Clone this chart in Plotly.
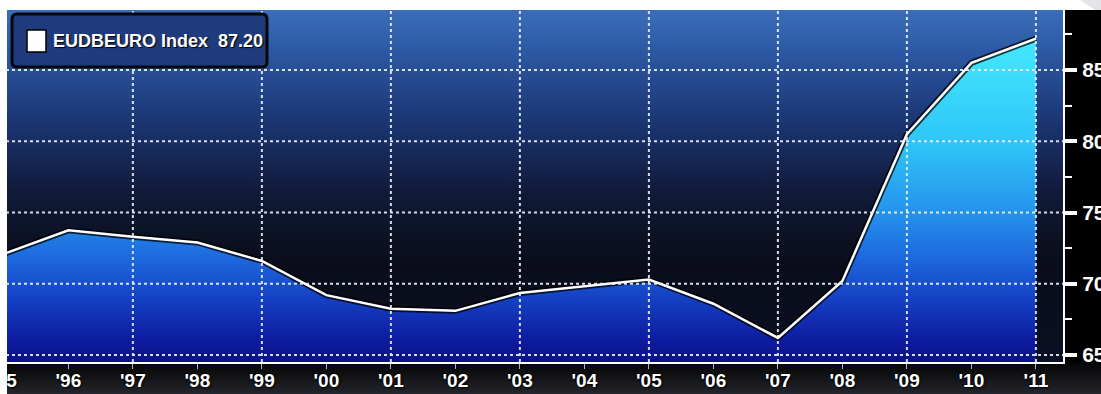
import base64
import plotly.graph_objects as go

# ---- data -------------------------------------------------------------
SERIES_NAME = "EUDBEURO Index"
YEARS = [1995, 1996, 1997, 1998, 1999, 2000, 2001, 2002, 2003,
         2004, 2005, 2006, 2007, 2008, 2009, 2010, 2011]
VALUES = [72.1, 73.75, 73.3, 72.9, 71.6, 69.2, 68.25, 68.1, 69.35,
          69.8, 70.3, 68.6, 66.2, 70.2, 80.5, 85.5, 87.2]

TICK_YEARS = list(range(1995, 2012))
TICK_TEXT = [f"'{y % 100:02d}" for y in TICK_YEARS]
GRID_YEARS = list(range(1997, 2012, 2))
GRID_LEVELS = [65, 70, 75, 80, 85]

# ---- canvas geometry (pixels) ----------------------------------------
W, H = 1101, 394
M_L, M_R, M_T, M_B = 0, 38, 10, 32
PW, PH = W - M_L - M_R, H - M_T - M_B
FRAME_LEFT = 7  # white strip at the left edge


def px_x(p):
    return (p - M_L) / PW


def px_y(p):
    return 1 - (p - M_T) / PH


# ---- background artwork (sky gradient, footer, top band) -------------
svg = f'''<svg xmlns="http://www.w3.org/2000/svg" width="{W}" height="{H}" viewBox="0 0 {W} {H}" preserveAspectRatio="none">
<defs>
<linearGradient id="sky" x1="0" y1="0" x2="0" y2="1">
<stop offset="0" stop-color="#3a6eba"/>
<stop offset="0.12" stop-color="#2c58a3"/>
<stop offset="0.32" stop-color="#1b3572"/>
<stop offset="0.52" stop-color="#101a38"/>
<stop offset="0.72" stop-color="#0a0d19"/>
<stop offset="1" stop-color="#0a0f24"/>
</linearGradient>
<linearGradient id="foot" x1="0" y1="0" x2="0" y2="1">
<stop offset="0" stop-color="#040405"/>
<stop offset="1" stop-color="#24252b"/>
</linearGradient>
</defs>
<rect x="0" y="0" width="{W}" height="{H}" fill="#000"/>
<rect x="{FRAME_LEFT}" y="{M_T}" width="{PW - FRAME_LEFT}" height="{PH}" fill="url(#sky)"/>
<rect x="0" y="{H - M_B}" width="{W}" height="{M_B}" fill="url(#foot)"/>
<rect x="0" y="0" width="{W}" height="{M_T}" fill="#ffffff"/>
<polygon points="1080,0 {W},0 {W},{M_T} 1095,{M_T}" fill="#e4e4e6"/>
</svg>'''
bg_uri = "data:image/svg+xml;base64," + base64.b64encode(svg.encode()).decode()

# white strip drawn on top of everything at the left edge
strip_svg = (f'<svg xmlns="http://www.w3.org/2000/svg" width="{FRAME_LEFT}" '
             f'height="{H}" viewBox="0 0 {FRAME_LEFT} {H}" '
             f'preserveAspectRatio="none"><rect width="{FRAME_LEFT}" '
             f'height="{H}" fill="#ffffff"/></svg>')
strip_uri = ("data:image/svg+xml;base64,"
             + base64.b64encode(strip_svg.encode()).decode())

FILL_SCALE = [
    [0.00, "#0a1286"],
    [0.07, "#0d1ca0"],
    [0.20, "#1542c4"],
    [0.33, "#1e6bdf"],
    [0.46, "#2592ec"],
    [0.68, "#2fc6f7"],
    [1.00, "#44e8ff"],
]

fig = go.Figure()

# filled area under the index
fig.add_trace(go.Scatter(
    x=YEARS, y=VALUES, mode="none", fill="tozeroy",
    fillgradient=dict(type="vertical", colorscale=FILL_SCALE,
                      start=64.5, stop=87.2),
    hoverinfo="skip", showlegend=False,
))
# dark halo under the line
fig.add_trace(go.Scatter(
    x=YEARS, y=VALUES, mode="lines",
    line=dict(color="rgba(0,0,0,0.75)", width=6),
    hoverinfo="skip", showlegend=False,
))
# the index line
fig.add_trace(go.Scatter(
    x=YEARS, y=VALUES, mode="lines",
    line=dict(color="#ffffff", width=2.5),
    hoverinfo="skip", showlegend=False,
))

grid_line = dict(color="rgba(236,242,252,0.9)", width=2, dash="3px,3px")
for yr in GRID_YEARS:
    fig.add_shape(type="line", xref="x", yref="paper", x0=yr, x1=yr,
                  y0=0, y1=1, line=grid_line, layer="above")
for lv in GRID_LEVELS:
    fig.add_shape(type="line", xref="paper", yref="y", x0=0, x1=1,
                  y0=lv, y1=lv, line=grid_line, layer="above")

# legend box
bx0, bx1, by0, by1, r = 12, 267, 14, 67, 5
path = (f"M {px_x(bx0 + r)} {px_y(by0)} L {px_x(bx1 - r)} {px_y(by0)} "
        f"Q {px_x(bx1)} {px_y(by0)} {px_x(bx1)} {px_y(by0 + r)} "
        f"L {px_x(bx1)} {px_y(by1 - r)} "
        f"Q {px_x(bx1)} {px_y(by1)} {px_x(bx1 - r)} {px_y(by1)} "
        f"L {px_x(bx0 + r)} {px_y(by1)} "
        f"Q {px_x(bx0)} {px_y(by1)} {px_x(bx0)} {px_y(by1 - r)} "
        f"L {px_x(bx0)} {px_y(by0 + r)} "
        f"Q {px_x(bx0)} {px_y(by0)} {px_x(bx0 + r)} {px_y(by0)} Z")
fig.add_shape(type="path", xref="paper", yref="paper", path=path,
              fillcolor="#1f3b7c", line=dict(color="#05070d", width=3),
              layer="above")
fig.add_shape(type="rect", xref="paper", yref="paper",
              x0=px_x(27), x1=px_x(46), y0=px_y(52), y1=px_y(30),
              fillcolor="#ffffff", line=dict(color="#000000", width=1.5),
              layer="above")

fig.add_annotation(
    xref="paper", yref="paper", x=px_x(51), y=px_y(41),
    xanchor="left", yanchor="middle", showarrow=False,
    text=f"{SERIES_NAME}  {VALUES[-1]:.2f}",
    font=dict(family="Liberation Sans", size=18, color="#ffffff",
              weight="bold", shadow="1px 1px 1px #000"),
)

tick_font = dict(family="Liberation Sans", size=19, color="#ffffff",
                 weight="bold", shadow="1px 1px 2px #000, -1px -1px 1px #000")

fig.update_layout(
    width=W, height=H,
    margin=dict(l=M_L, r=M_R, t=M_T, b=M_B, pad=0, autoexpand=False),
    paper_bgcolor="#000000",
    plot_bgcolor="rgba(0,0,0,0)",
    hovermode=False,
    showlegend=False,
    images=[
        dict(source=bg_uri, xref="paper", yref="paper",
             x=px_x(0), y=px_y(0), sizex=W / PW, sizey=H / PH,
             xanchor="left", yanchor="top", sizing="stretch",
             layer="below"),
        dict(source=strip_uri, xref="paper", yref="paper",
             x=px_x(0), y=px_y(0), sizex=FRAME_LEFT / PW, sizey=H / PH,
             xanchor="left", yanchor="top", sizing="stretch",
             layer="above"),
    ],
    xaxis=dict(
        range=[1994.94, 2011.42], tickmode="array",
        tickvals=TICK_YEARS, ticktext=TICK_TEXT,
        showgrid=False, zeroline=False, automargin=False,
        showline=True, linecolor="#ffffff", linewidth=2,
        ticks="outside", ticklen=5, tickwidth=1, tickcolor="#9fb6d6",
        ticklabelstandoff=-5,
        ticklabeloverflow="allow",
        tickfont=tick_font,
    ),
    yaxis=dict(
        side="right", range=[64.51, 89.21],
        tickmode="linear", tick0=65, dtick=5,
        showgrid=False, zeroline=False, automargin=False,
        showline=True, linecolor="#ffffff", linewidth=2,
        ticks="outside", ticklen=12, tickwidth=4, tickcolor="#ffffff",
        minor=dict(tick0=65, dtick=2.5, ticks="outside", ticklen=7,
                   tickwidth=2, tickcolor="#ffffff", showgrid=False),
        ticklabelstandoff=1,
        ticklabeloverflow="allow",
        tickfont=dict(family="Liberation Sans", size=21, color="#ffffff",
                      weight="bold", shadow="1px 1px 2px #000"),
    ),
)

fig.write_html("out.html")
